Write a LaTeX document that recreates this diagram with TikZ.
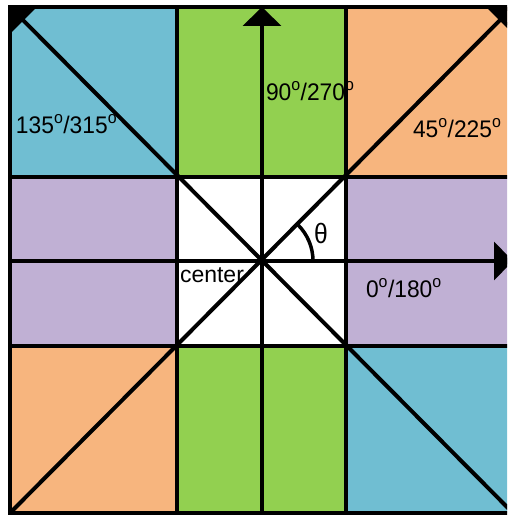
\documentclass[tikz,border=0pt]{standalone}
\usepackage{fontspec}
\usepackage{graphicx}
\setmainfont{Liberation Sans}
\usetikzlibrary{arrows.meta}
\definecolor{cblue}{RGB}{112,190,210}
\definecolor{cgreen}{RGB}{146,208,80}
\definecolor{corange}{RGB}{247,181,126}
\definecolor{cpurple}{RGB}{192,176,212}
\newcommand{\nrw}[1]{\scalebox{0.95}[1]{#1}}
\newcommand{\nrwt}[1]{\scalebox{0.88}[1]{#1}}
\begin{document}
\begin{tikzpicture}[x=1pt,y=-1pt,line width=4pt,
  lbl/.style={font=\fontsize{24}{24}\selectfont, inner sep=0pt, anchor=base west},
  arr/.style={-{Triangle[width=38pt,length=19pt]}}]
\clip (0,0) rectangle (507,516);
\fill[white] (0,0) rectangle (507,516);
% grid coordinates
\coordinate (TL) at (10,7);
\coordinate (TR) at (513,7);
\coordinate (BL) at (10,513);
\coordinate (BR) at (513,513);
\coordinate (C) at (262,261);
\coordinate (T) at (262,7);
\coordinate (B) at (262,513);
\coordinate (L) at (10,261);
\coordinate (R) at (513,261);
% fills
\fill[cblue] (10,7) rectangle (177,177);
\fill[cblue] (346,346) rectangle (513,513);
\fill[corange] (346,7) rectangle (513,177);
\fill[corange] (10,346) rectangle (177,513);
\fill[cgreen] (177,7) rectangle (346,177);
\fill[cgreen] (177,346) rectangle (346,513);
\fill[cpurple] (10,177) rectangle (177,346);
\fill[cpurple] (346,177) rectangle (513,346);
% grid lines
\draw (TL) rectangle (BR);
\draw (177,7) -- (177,513);
\draw (346,7) -- (346,513);
\draw (10,177) -- (513,177);
\draw (10,346) -- (513,346);
% axes and diagonals
\draw[arr] (B) -- (T);
\draw[arr] (L) -- (R);
\draw[arr] (BR) -- (TL);
\draw[arr] (BL) -- (TR);
% angle arc
\draw[line width=3.5pt] (C) ++(51,0) arc[start angle=0,end angle=-45,radius=51];
% labels
\node[lbl] (l135) at (14,133) {\nrw{135\textsuperscript{o}/315\textsuperscript{o}}};
\node[lbl] (l90) at (264,100) {\nrw{90\textsuperscript{o}/270\textsuperscript{o}}};
\node[lbl] (l45) at (411,137) {\nrw{45\textsuperscript{o}/225\textsuperscript{o}}};
\node[lbl] (l0) at (364,297) {\nrw{0\textsuperscript{o}/180\textsuperscript{o}}};
\node[lbl,font=\fontsize{23}{23}\selectfont] (lc) at (178,282) {center};
\node[lbl,font=\fontsize{28}{28}\selectfont] (lth) at (312,243) {\nrwt{θ}};
\end{tikzpicture}
\end{document}
